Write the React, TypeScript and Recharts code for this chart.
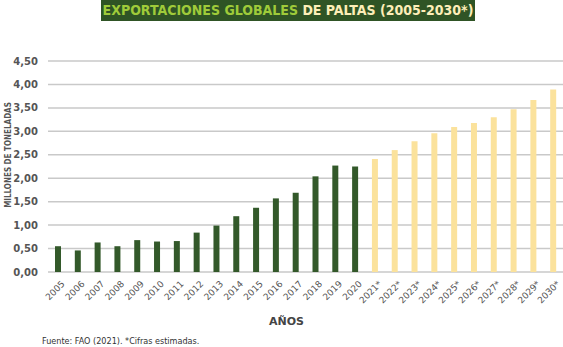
import { BarChart, Bar, XAxis, YAxis, CartesianGrid, Cell } from "recharts"

const anios = [
  "2005", "2006", "2007", "2008", "2009", "2010", "2011", "2012", "2013",
  "2014", "2015", "2016", "2017", "2018", "2019", "2020",
  "2021*", "2022*", "2023*", "2024*", "2025*", "2026*", "2027*", "2028*", "2029*", "2030*",
]
const exportaciones = [
  0.55, 0.46, 0.63, 0.55, 0.68, 0.65, 0.66, 0.84, 0.99,
  1.19, 1.37, 1.57, 1.69, 2.04, 2.27, 2.25,
  2.41, 2.6, 2.79, 2.96, 3.09, 3.18, 3.3, 3.47, 3.67, 3.89,
]
const yTicks = [0, 0.5, 1, 1.5, 2, 2.5, 3, 3.5, 4, 4.5]
const nReales = 16

const VERDE = "#33592a"
const AMARILLO = "#fbe29c"

const data = anios.map((a, i) => ({ anio: a, valor: exportaciones[i] }))

const fmt = (v: number) => v.toFixed(2).replace(".", ",")

export default function App() {
  return (
    <div style={{ position: "absolute", left: 0, top: 0, width: 563, height: 347, background: "#fff", fontFamily: "'DejaVu Sans', sans-serif" }}>
      <div
        style={{
          position: "absolute", left: 101, top: 0, width: 374, height: 21, background: "#2f5425",
          textAlign: "center", lineHeight: "21px", fontSize: 14, fontWeight: 700,
          fontFamily: "'DejaVu Sans Condensed', 'DejaVu Sans', sans-serif", whiteSpace: "nowrap",
        }}
      >
        <span style={{ color: "#9fcb3a" }}>EXPORTACIONES GLOBALES </span>
        <span style={{ color: "#fdeeb8" }}>DE PALTAS (2005-2030*)</span>
      </div>
      <div style={{ position: "absolute", left: 8, top: 155, width: 0, height: 0 }}>
        <div
          style={{
            position: "absolute", transform: "translate(-50%, -50%) rotate(-90deg)", whiteSpace: "nowrap",
            fontSize: 8, fontWeight: 700, color: "#555", fontFamily: "'DejaVu Sans Condensed', 'DejaVu Sans', sans-serif",
          }}
        >
          MILLONES DE TONELADAS
        </div>
      </div>
      <BarChart
        width={563}
        height={347}
        data={data}
        margin={{ top: 61, right: 0, left: 0, bottom: 35 }}
        barCategoryGap={0}
      >
        <CartesianGrid vertical={false} stroke="#c9c9c9" strokeWidth={1.5} />
        <XAxis
          dataKey="anio"
          interval={0}
          angle={-45}
          textAnchor="end"
          axisLine={false}
          tickLine={false}
          height={40}
          tick={{ fontSize: 9, fill: "#555", dx: 3, dy: 0 }}
        />
        <YAxis
          domain={[0, 4.5]}
          ticks={yTicks}
          tickFormatter={fmt}
          width={48}
          axisLine={false}
          tickLine={false}
          tickMargin={4}
          tick={{ fontSize: 10, fontWeight: 700, fill: "#555" }}
        />
        <Bar dataKey="valor" barSize={6} isAnimationActive={false}>
          {data.map((_, i) => (
            <Cell key={i} fill={i < nReales ? VERDE : AMARILLO} />
          ))}
        </Bar>
      </BarChart>
      <div style={{ position: "absolute", left: 0, width: 563, top: 315, textAlign: "center", paddingLeft: 10, boxSizing: "border-box", fontSize: 11, fontWeight: 700, color: "#444" }}>
        AÑOS
      </div>
      <div style={{ position: "absolute", left: 42, top: 336, fontSize: 9, color: "#333", fontFamily: "'DejaVu Sans Condensed', 'DejaVu Sans', sans-serif" }}>
        Fuente: FAO (2021). *Cifras estimadas.
      </div>
    </div>
  )
}
